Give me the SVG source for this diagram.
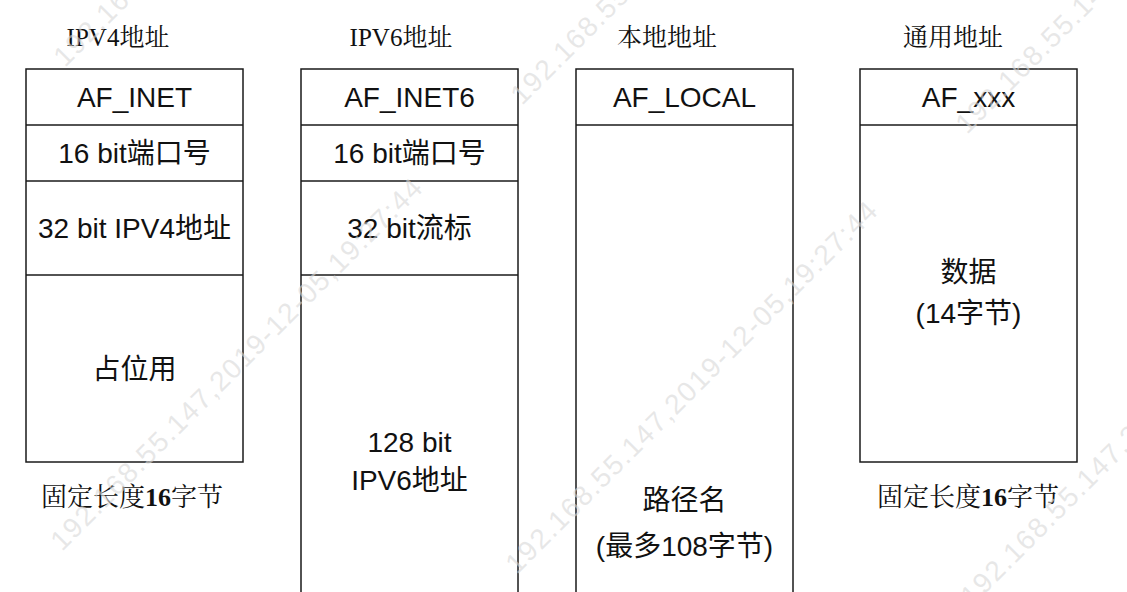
<svg xmlns="http://www.w3.org/2000/svg" width="1127" height="592" viewBox="0 0 1127 592">
<style>
.box{fill:#fff;stroke:#1a1a1a;stroke-width:1.5}
.ln{stroke:#1a1a1a;stroke-width:1.5}
.t{font-family:"Liberation Sans","Noto Sans CJK SC",sans-serif;font-size:28px;fill:#111;text-anchor:middle;dominant-baseline:central}
.h{font-family:"Liberation Serif","Noto Serif CJK SC","Noto Sans CJK SC",serif;font-size:25px;fill:#111;text-anchor:middle;dominant-baseline:central}
.f{font-size:26px}
.wm{font-family:"Liberation Sans",sans-serif;font-size:28px;letter-spacing:1.5px;fill:#d8d8d8;fill-opacity:0.6}
</style>
<rect width="1127" height="592" fill="#fff"/>
<g id="ipv4">
<text class="h" x="118" y="37">IPV4地址</text>
<rect class="box" x="26" y="69" width="217" height="393"/>
<line class="ln" x1="26" y1="125" x2="243" y2="125"/>
<line class="ln" x1="26" y1="181" x2="243" y2="181"/>
<line class="ln" x1="26" y1="275" x2="243" y2="275"/>
<text class="t" x="134.5" y="97">AF_INET</text>
<text class="t" x="134.5" y="153">16 bit端口号</text>
<text class="t" x="134.5" y="228">32 bit IPV4地址</text>
<text class="t" x="134.5" y="369">占位用</text>
<text class="h f" x="132" y="497">固定长度<tspan font-weight="bold">16</tspan>字节</text>
</g>
<g id="ipv6">
<text class="h" x="401" y="37">IPV6地址</text>
<rect class="box" x="301" y="69" width="217" height="540"/>
<line class="ln" x1="301" y1="125" x2="518" y2="125"/>
<line class="ln" x1="301" y1="181" x2="518" y2="181"/>
<line class="ln" x1="301" y1="275" x2="518" y2="275"/>
<text class="t" x="409.5" y="97">AF_INET6</text>
<text class="t" x="409.5" y="153">16 bit端口号</text>
<text class="t" x="409.5" y="228">32 bit流标</text>
<text class="t" x="409.5" y="442">128 bit</text>
<text class="t" x="409.5" y="480">IPV6地址</text>
</g>
<g id="local">
<text class="h" x="667" y="37">本地地址</text>
<rect class="box" x="576" y="69" width="217" height="540"/>
<line class="ln" x1="576" y1="125" x2="793" y2="125"/>
<text class="t" x="684.5" y="97">AF_LOCAL</text>
<text class="t" x="684.5" y="500">路径名</text>
<text class="t" x="684.5" y="546">(最多108字节)</text>
</g>
<g id="generic">
<text class="h" x="953" y="37">通用地址</text>
<rect class="box" x="860" y="69" width="217" height="393"/>
<line class="ln" x1="860" y1="125" x2="1077" y2="125"/>
<text class="t" x="968.5" y="97">AF_xxx</text>
<text class="t" x="968.5" y="272">数据</text>
<text class="t" x="968.5" y="313">(14字节)</text>
<text class="h f" x="968" y="497">固定长度<tspan font-weight="bold">16</tspan>字节</text>
</g>
<g id="connectors"/>
<g id="watermark">
<text class="wm" transform="translate(65,68) rotate(-45)">192.168.55.147,2019-12-05,19:27:44</text>
<text class="wm" transform="translate(522,106) rotate(-45)">192.168.55.147,2019-12-05,19:27:44</text>
<text class="wm" transform="translate(967,135) rotate(-45)">192.168.55.147,2019-12-05,19:27:44</text>
<text class="wm" transform="translate(62,552) rotate(-45)">192.168.55.147,2019-12-05,19:27:44</text>
<text class="wm" transform="translate(517,575) rotate(-45)">192.168.55.147,2019-12-05,19:27:44</text>
<text class="wm" transform="translate(972,607) rotate(-45)">192.168.55.147,2019-12-05,19:27:44</text>
</g>
</svg>
